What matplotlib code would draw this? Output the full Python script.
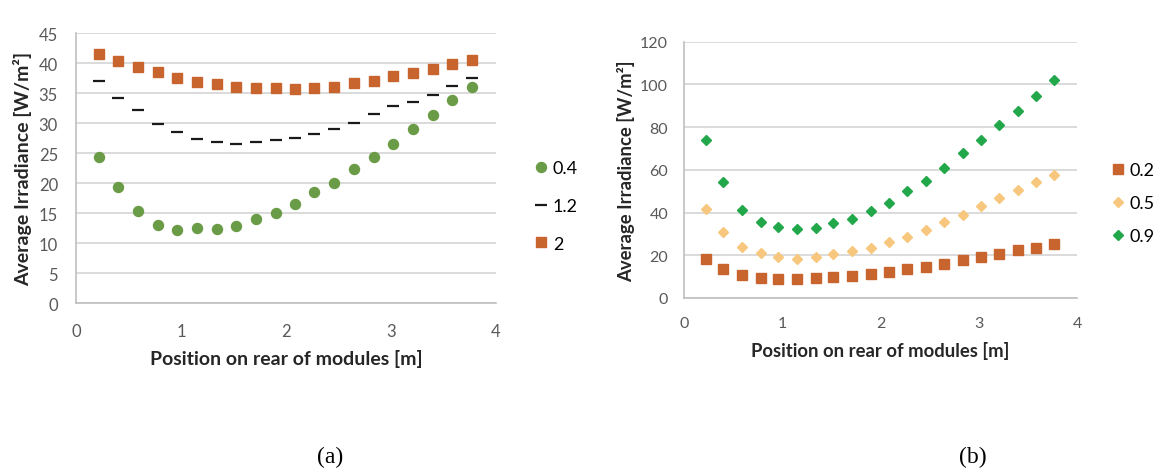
import numpy as np
import matplotlib
matplotlib.use('Agg')
import matplotlib.pyplot as plt

# position on rear of modules [m]
pos = [0.22, 0.40, 0.59, 0.78, 0.96, 1.15, 1.34, 1.52, 1.71, 1.90,
       2.09, 2.27, 2.46, 2.65, 2.84, 3.02, 3.21, 3.40, 3.58, 3.77]

# (a) three series
a_04 = [24.4, 19.4, 15.3, 13.1, 12.2, 12.5, 12.3, 12.8, 14.0, 15.1,
        16.6, 18.6, 20.1, 22.3, 24.4, 26.6, 29.1, 31.3, 33.8, 36.1]
a_12 = [37.0, 34.2, 32.2, 29.9, 28.6, 27.4, 26.9, 26.5, 26.9, 27.2,
        27.6, 28.2, 29.1, 30.1, 31.5, 32.9, 33.5, 34.7, 36.2, 37.5]
a_2 = [41.6, 40.3, 39.4, 38.5, 37.5, 36.9, 36.5, 36.1, 35.8, 35.8,
       35.7, 35.8, 36.1, 36.7, 37.1, 37.8, 38.3, 39.0, 39.9, 40.6]

# (b) three series
b_02 = [18.1, 13.8, 10.8, 9.5, 9.1, 9.1, 9.2, 9.7, 10.2, 11.2,
        12.2, 13.4, 14.5, 15.9, 17.8, 19.1, 20.5, 22.3, 23.6, 25.2]
b_05 = [41.6, 30.9, 24.1, 20.9, 19.2, 18.4, 19.2, 20.5, 22.0, 23.4,
        26.4, 28.6, 31.7, 35.5, 38.9, 43.0, 46.6, 50.5, 54.1, 57.8]
b_09 = [73.8, 54.1, 41.1, 35.8, 33.1, 32.2, 32.7, 35.0, 37.2, 40.6,
        44.7, 50.0, 55.0, 60.8, 68.0, 74.2, 80.9, 87.7, 94.4, 101.9]

tick_col = '#595959'
grid_col = '#d4d4d4'
lab_font = 'Lato'

fig = plt.figure(figsize=(11.59, 4.77), dpi=100)


def style(ax, ymax, ystep, fs, lab_fs, xpad, ypad, xlab_y, ylab_x):
    ax.set_xlim(0, 4)
    ax.set_ylim(0, ymax)
    ax.set_xticks(range(0, 5))
    ax.set_yticks(np.arange(0, ymax + 1, ystep))
    ax.grid(axis='y', color=grid_col, lw=1.2)
    ax.set_axisbelow(True)
    for s in ['top', 'right']:
        ax.spines[s].set_visible(False)
    for s in ['left', 'bottom']:
        ax.spines[s].set_color('#bfbfbf')
        ax.spines[s].set_linewidth(1.2)
    ax.tick_params(length=0, labelsize=fs, labelcolor=tick_col)
    ax.tick_params(axis='x', pad=xpad)
    ax.tick_params(axis='y', pad=ypad)
    for t in ax.get_xticklabels() + ax.get_yticklabels():
        t.set_family(lab_font)
    ax.set_xlabel('Position on rear of modules [m]', fontsize=lab_fs,
                  fontweight='bold', family=lab_font, color='#262626')
    ax.set_ylabel('Average Irradiance [W/m²]', fontsize=lab_fs,
                  fontweight='bold', family=lab_font, color='#262626')
    ax.xaxis.set_label_coords(0.5, xlab_y)
    ax.yaxis.set_label_coords(ylab_x, 0.5)


# (a)
ax1 = fig.add_axes([0.0656, 0.3621, 0.3624, 0.566])
ax1.plot(pos, a_04, 'o', ms=7.2, color='#6a9b46', label='0.4')
ax1.plot(pos, a_12, '_', ms=8, mew=1.6, color='#1a1a1a', label='1.2')
ax1.plot(pos, a_2, 's', ms=7.2, color='#c8652e', label='2')
style(ax1, 45, 5, 12, 14, 14, 13, -0.17, -0.105)
ax1.legend(loc='center left', bbox_to_anchor=(534 / 1159, 0.566),
           bbox_transform=fig.transFigure, frameon=False, borderaxespad=0,
           borderpad=0, handletextpad=0.25, labelspacing=1.2, handlelength=0.8,
           prop={'family': lab_font, 'size': 13})

# (b)
ax2 = fig.add_axes([0.5902, 0.3732, 0.3391, 0.5373])
ax2.plot(pos, b_02, 's', ms=6.7, color='#c8652e', label='0.2')
ax2.plot(pos, b_05, 'D', ms=4.8, color='#f8c77e', label='0.5')
ax2.plot(pos, b_09, 'D', ms=4.8, color='#22a84a', label='0.9')
style(ax2, 120, 20, 11.5, 13.3, 12.7, 11.5, -0.167, -0.125)
ax2.legend(loc='center left', bbox_to_anchor=(1111 / 1159, 0.572),
           bbox_transform=fig.transFigure, frameon=False, borderaxespad=0,
           borderpad=0, handletextpad=0.25, labelspacing=0.95, handlelength=0.8,
           prop={'family': lab_font, 'size': 13})

fig.text(0.285, 0.03, '(a)', fontsize=17, family='Liberation Serif', ha='center')
fig.text(0.839, 0.03, '(b)', fontsize=17, family='Liberation Serif', ha='center')

fig.savefig('out.png', dpi=100)
